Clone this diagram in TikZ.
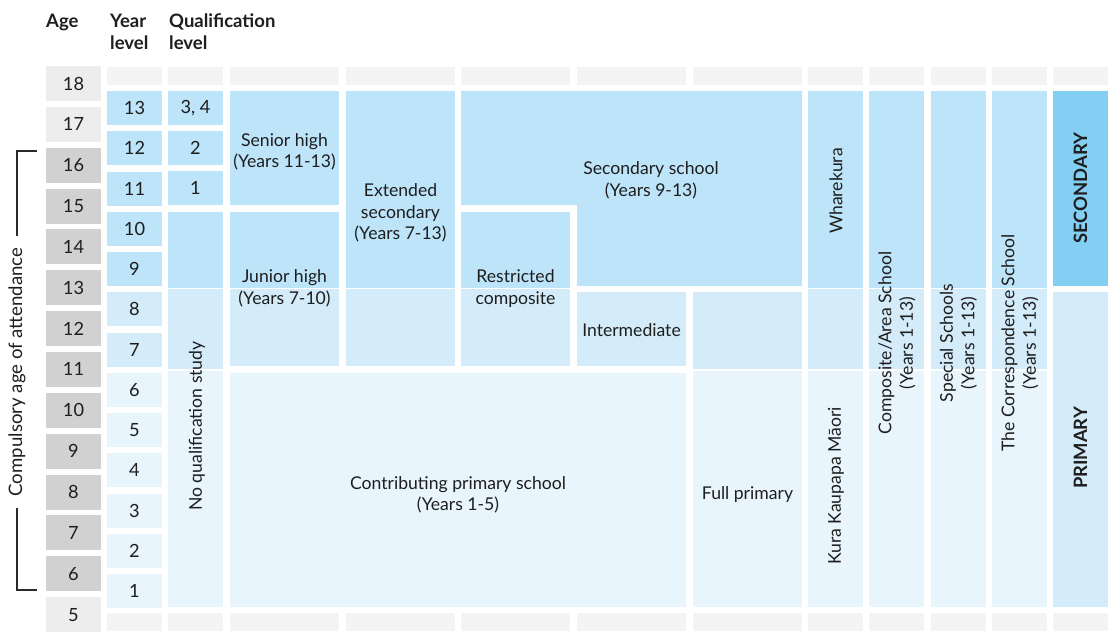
\documentclass[tikz,border=0pt]{standalone}
\usepackage{fontspec}
\setmainfont{Lato}
\definecolor{dk}{HTML}{BDE4F9}
\definecolor{md}{HTML}{D4EBFA}
\definecolor{lt}{HTML}{E8F5FD}
\definecolor{sec}{HTML}{82CFF3}
\definecolor{strip}{HTML}{F4F4F4}
\definecolor{agel}{HTML}{EDEDED}
\definecolor{aged}{HTML}{D1D1D1}
\definecolor{ink}{HTML}{1E1E1E}
\definecolor{brk}{HTML}{2A2A2A}
\newcommand\rblk[6]{\node[cell,fill=#6,minimum width={#4pt-#2pt},minimum height={#5pt-#3pt},anchor=north west] (#1) at (#2,#3) {};}
\begin{document}
\begin{tikzpicture}[x=1pt,y=-1pt,
  cell/.style={inner sep=0pt,outer sep=0pt,draw=none},
  lbl/.style={font=\fontsize{17.6}{21.5}\selectfont,text=ink,align=center,inner sep=0pt},
  num/.style={font=\fontsize{18.2}{20}\selectfont,text=ink},
  hdr/.style={font=\fontsize{18.5}{20}\selectfont\bfseries,text=ink,inner sep=0pt,anchor=base west},
  big/.style={font=\fontsize{18.4}{20}\selectfont\bfseries,text=ink,inner sep=0pt,rotate=90}]
\useasboundingbox (0,0) rectangle (1112,634);
% headers
\node[hdr] (hAge) at (46,28) {Age};
\node[hdr] (hYear1) at (110,28) {Year};
\node[hdr] (hYear2) at (110,50) {level};
\node[hdr] (hQual1) at (169,28) {Qualification};
\node[hdr] (hQual2) at (169,50) {level};
% top and bottom strips
\foreach \xa/\xb [count=\k] in {107/162,168/223,230/339,346/455,461/570,577/686,693/802,808/863,869/924,931/986,992/1047,1053/1108}{
  \rblk{top\k}{\xa}{67}{\xb}{85}{strip}
  \rblk{bot\k}{\xa}{613}{\xb}{631}{strip}
}
% ages
\foreach \a/\c [count=\i from 0] in {18/agel,17/agel,16/aged,15/aged,14/aged,13/aged,12/aged,11/aged,10/aged,9/aged,8/aged,7/aged,6/aged,5/agel}{
  \node[cell,num,fill=\c,minimum width=55pt,minimum height=35pt,anchor=north west] (age\a) at (46,{66+40.85*\i}) {\a};
}
% year levels
\foreach \v/\c [count=\i from 0] in {13/dk,12/dk,11/dk,10/dk,9/dk,8/md,7/md,6/lt,5/lt,4/lt,3/lt,2/lt,1/lt}{
  \node[cell,num,fill=\c,minimum width=55pt,minimum height=34pt,anchor=north west] (yr\v) at (107,{91+40.25*\i}) {\v};
}
% qualification levels
\node[cell,num,fill=dk,minimum width=55pt,minimum height=34pt,anchor=north west] (q34) at (168,91) {3, 4};
\node[cell,num,fill=dk,minimum width=55pt,minimum height=34pt,anchor=north west] (q2) at (168,131) {2};
\node[cell,num,fill=dk,minimum width=55pt,minimum height=34pt,anchor=north west] (q1) at (168,171) {1};
\rblk{nqA}{168}{212}{223}{287.5}{dk}
\rblk{nqB}{168}{289}{223}{369}{md}
\rblk{nqC}{168}{371}{223}{607}{lt}
\node[lbl,rotate=90] (nq) at (197,426) {No qualification study};
% senior / junior high
\rblk{senior}{230}{91}{339}{205}{dk}
\node[lbl] (seniorT) at (284.5,152) {Senior high\\(Years 11-13)};
\rblk{juniorA}{230}{212}{339}{287.5}{dk}
\rblk{juniorB}{230}{289}{339}{366}{md}
\node[lbl] (juniorT) at (284.5,288.5) {Junior high\\(Years 7-10)};
% extended secondary
\rblk{extA}{346}{91}{455}{287.5}{dk}
\rblk{extB}{346}{289}{455}{366}{md}
\node[lbl] (extT) at (400.5,213) {Extended\\secondary\\(Years 7-13)};
% restricted composite
\rblk{resA}{461}{212}{570}{287.5}{dk}
\rblk{resB}{461}{289}{570}{366}{md}
\node[lbl] (resT) at (515.5,288.5) {Restricted\\composite};
% secondary school
\fill[dk] (461,91) -- (802,91) -- (802,286) -- (577,286) -- (577,205) -- (461,205) -- cycle;
\node[lbl] (secT) at (651,180.5) {Secondary school\\(Years 9-13)};
% intermediate
\rblk{inter}{577}{292}{686}{366}{md}
\node[lbl] (interT) at (631.5,330) {Intermediate};
% contributing primary
\rblk{contrib}{230}{373}{686}{607}{lt}
\node[lbl] (contribT) at (458,495) {Contributing primary school\\(Years 1-5)};
% full primary
\rblk{fullA}{693}{292}{802}{369}{md}
\rblk{fullB}{693}{371}{802}{607}{lt}
\node[lbl] (fullT) at (747.5,495) {Full primary};
% special character columns
\foreach \xa/\xb/\n in {808/863/F,869/924/G,931/986/H,992/1047/I}{
  \rblk{col\n A}{\xa}{91}{\xb}{287.5}{dk}
  \rblk{col\n B}{\xa}{289}{\xb}{369}{md}
  \rblk{col\n C}{\xa}{371}{\xb}{607}{lt}
}
\node[lbl,rotate=90] (whareT) at (836,191) {Wharekura};
\node[lbl,rotate=90] (kuraT) at (836,486) {Kura Kaupapa Māori};
\node[lbl,rotate=90] (compT) at (897,343) {Composite/Area School\\(Years 1-13)};
\node[lbl,rotate=90] (specT) at (958.5,343) {Special Schools\\(Years 1-13)};
\node[lbl,rotate=90] (corrT) at (1020,343) {The Correspondence School\\(Years 1-13)};
% secondary / primary
\rblk{secB}{1053}{91}{1108}{286}{sec}
\node[big] (secBT) at (1080.5,188) {SECONDARY};
\rblk{priB}{1053}{292}{1108}{607}{md}
\node[big] (priBT) at (1080.5,448) {PRIMARY};
% compulsory bracket
\node[lbl,font=\fontsize{18.6}{21}\selectfont,rotate=90,inner xsep=12pt] (compul) at (17,372) {Compulsory age of attendance};
\coordinate (bt) at (37,151);
\coordinate (btl) at (17,151);
\coordinate (bb) at (37,590);
\coordinate (bbl) at (17,590);
\draw[brk,line width=1.3pt] (bt) -- (btl) -- (btl |- compul.east);
\draw[brk,line width=1.3pt] (bb) -- (bbl) -- (bbl |- compul.west);
\end{tikzpicture}
\end{document}
